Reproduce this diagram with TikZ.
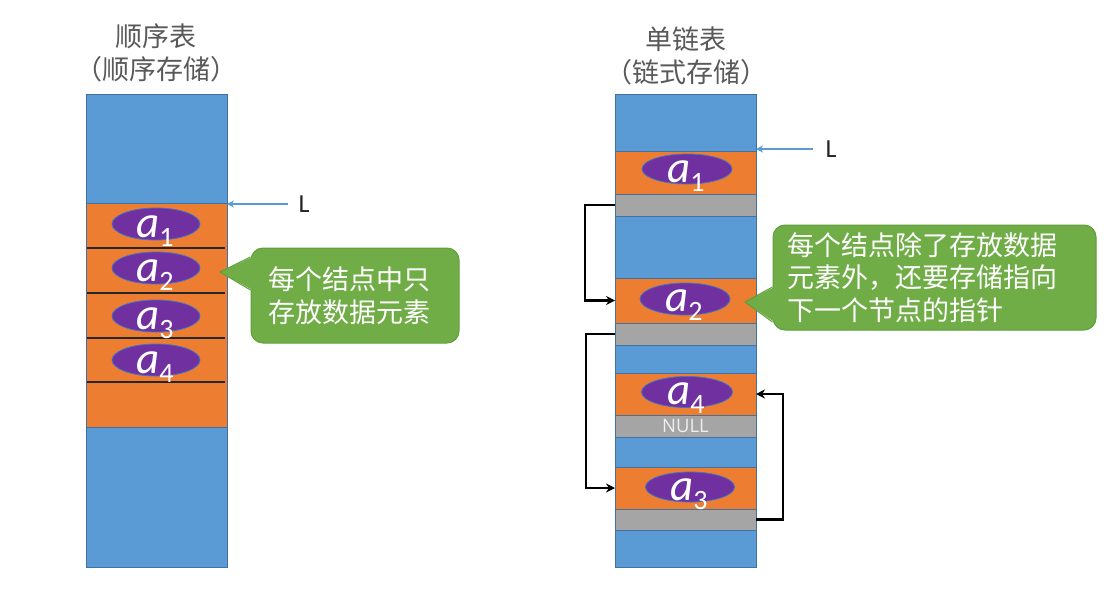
\documentclass[tikz,border=0pt]{standalone}
\usepackage{fontspec}
\setmainfont{Carlito}
\newfontfamily\cjk{Noto Sans CJK SC}
\newfontfamily\opensansfnt{Open Sans}
\usetikzlibrary{arrows.meta,shapes.geometric}
\definecolor{cblue}{HTML}{5B9BD5}
\definecolor{cbline}{HTML}{41719C}
\definecolor{corange}{HTML}{ED7D31}
\definecolor{cgray}{HTML}{A5A5A5}
\definecolor{cpurple}{HTML}{7030A0}
\definecolor{cpborder}{HTML}{4472C4}
\definecolor{cgreen}{HTML}{70AD47}
\definecolor{cgreenline}{HTML}{5E9E3B}
\definecolor{ctitle}{HTML}{595959}
\definecolor{cnull}{HTML}{EEEEEE}
\newcommand\elab[1]{{\fontsize{45}{45}\selectfont\itshape a}\raisebox{-9pt}{\fontsize{28}{28}\selectfont #1}}
\begin{document}
\begin{tikzpicture}[x=1pt,y=-1pt,
  band/.style={draw=cbline,line width=0.6pt,minimum width=141pt,inner sep=0pt,outer sep=0pt},
  bblue/.style={band,fill=cblue},
  borange/.style={band,fill=corange},
  bgray/.style={band,fill=cgray},
  elem/.style={ellipse,fill=cpurple,draw=cpborder,line width=0.8pt,inner sep=0pt},
  elabel/.style={anchor=base,text=white,inner sep=0pt},
  sepline/.style={draw=black!85,line width=1.6pt},
  link/.style={draw=black,line width=2.2pt,-{Stealth[length=9pt,width=9pt]}},
  larrow/.style={draw=cblue,line width=1.2pt,-{Stealth[length=7pt,width=7pt]}},
  ltxt/.style={font=\fontsize{26}{26}\selectfont,text=black!85,inner sep=1pt},
  title/.style={font=\cjk\fontsize{27}{33}\selectfont,text=ctitle,align=center},
  callout/.style={fill=cgreen,draw=cgreenline,line width=1pt,rounded corners=12pt,
    text=white,align=left,font=\cjk\fontsize{27}{32.5}\selectfont,inner ysep=0pt},
  ptrfill/.style={fill=cgreen},
  ptrline/.style={draw=cgreenline,line width=1pt},
  nulltxt/.style={font=\opensansfnt\fontsize{18.5}{18.5}\selectfont,text=cnull,inner sep=0pt}
]
\useasboundingbox (0,0) rectangle (1116,592);
\fill[white] (0,0) rectangle (1116,592);

% ---------------- left: sequential list ----------------
\node[title] (t1) at (156,53) {顺序表\\（顺序存储）};
\node[bblue,minimum height=109pt] (lb1) at (156.5,148.5) {};
\node[borange,minimum height=224pt] (lo) at (156.5,315) {};
\node[bblue,minimum height=140pt] (lb2) at (156.5,497) {};
\draw[sepline] (87,248) -- (225,248);
\draw[sepline] (87,293) -- (225,293);
\draw[sepline] (87,338) -- (225,338);
\draw[sepline] (87,382) -- (225,382);

\node[elem,minimum width=88pt,minimum height=32pt] (le1) at (156,224) {};
\node[elem,minimum width=88pt,minimum height=32pt] (le2) at (156,268) {};
\node[elem,minimum width=88pt,minimum height=32pt] (le3) at (156,316) {};
\node[elem,minimum width=88pt,minimum height=32pt] (le4) at (156,360) {};
\node[elabel] (la1) at (155,237) {\elab{1}};
\node[elabel] (la2) at (155,281) {\elab{2}};
\node[elabel] (la3) at (155,329) {\elab{3}};
\node[elabel] (la4) at (155,373) {\elab{4}};

\node[ltxt] (L1) at (304,204) {L};
\draw[larrow] ([xshift=-9pt]L1.west) -- (L1.west -| lo.east);

\node[callout,text width=174pt,inner xsep=17pt,minimum height=95pt] (c1) at (355,295.5) {每个结点中只\\存放数据元素};
\coordinate (p1) at (220,272);
\coordinate (c1t) at (c1.west |- 0,257);
\coordinate (c1b) at (c1.west |- 0,290);
\fill[ptrfill] (p1) -- ([xshift=2pt]c1t) -- ([xshift=2pt]c1b) -- cycle;
\draw[ptrline] (c1t) -- (p1) -- (c1b);

% ---------------- right: linked list ----------------
\node[title] (t2) at (686,56) {单链表\\（链式存储）};
\node[bblue,minimum height=57pt] (rb1) at (685.5,122.5) {};
\node[borange,minimum height=43pt] (ro1) at (685.5,172.5) {};
\node[bgray,minimum height=22pt] (rg1) at (685.5,205) {};
\node[bblue,minimum height=62pt] (rb2) at (685.5,247) {};
\node[borange,minimum height=45pt] (ro2) at (685.5,300.5) {};
\node[bgray,minimum height=22pt] (rg2) at (685.5,334) {};
\node[bblue,minimum height=28pt] (rb3) at (685.5,359) {};
\node[borange,minimum height=42pt] (ro4) at (685.5,394) {};
\node[bgray,minimum height=22pt] (rgn) at (685.5,426) {};
\node[bblue,minimum height=30pt] (rb4) at (685.5,452) {};
\node[borange,minimum height=42pt] (ro3) at (685.5,488) {};
\node[bgray,minimum height=21pt] (rg3) at (685.5,519.5) {};
\node[bblue,minimum height=37pt] (rb5) at (685.5,548.5) {};

\node[elem,minimum width=90pt,minimum height=30pt] (re1) at (687,169) {};
\node[elem,minimum width=90pt,minimum height=32pt] (re2) at (685,299) {};
\node[elem,minimum width=91pt,minimum height=31pt] (re4) at (687,392) {};
\node[elem,minimum width=89pt,minimum height=30pt] (re3) at (690,487) {};
\node[elabel] (ra1) at (686,182) {\elab{1}};
\node[elabel] (ra2) at (684,311) {\elab{2}};
\node[elabel] (ra4) at (686,404) {\elab{4}};
\node[elabel] (ra3) at (689,500) {\elab{3}};

\node[nulltxt] (null) at (rgn) {NULL};

\draw[link] (rg1.west) -- ++(-30,0) |- (ro2.west);
\draw[link] (rg2.west) -- ++(-29,0) |- (ro3.west);
\draw[link] (rg3.east) -- ++(27,0) |- (ro4.east);

\node[ltxt] (L2) at (831,149) {L};
\draw[larrow] ([xshift=-11pt]L2.west) -- (L2.west -| ro1.east);

\node[callout,text width=295pt,inner xsep=14pt,minimum height=105pt] (c2) at (934.5,277.5) {每个结点除了存放数据\\元素外，还要存储指向\\下一个节点的指针};
\coordinate (p2) at (745,302);
\coordinate (c2t) at (c2.west |- 0,287);
\coordinate (c2b) at (c2.west |- 0,322);
\fill[ptrfill] (p2) -- ([xshift=2pt]c2t) -- ([xshift=2pt]c2b) -- cycle;
\draw[ptrline] (c2t) -- (p2) -- (c2b);
\end{tikzpicture}
\end{document}
